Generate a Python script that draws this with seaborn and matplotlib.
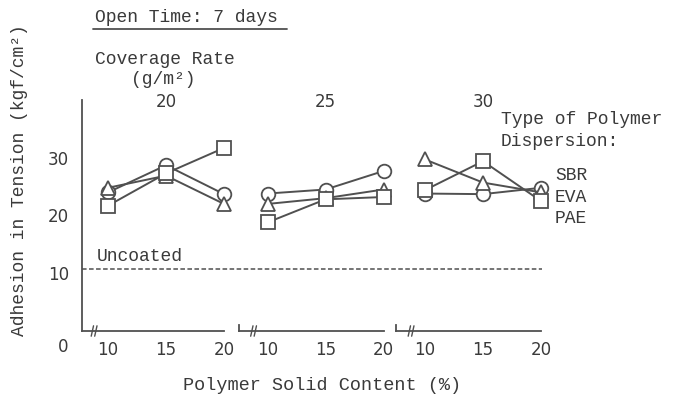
import numpy as np
import pandas as pd
import seaborn as sns
import matplotlib.pyplot as plt
from matplotlib.lines import Line2D

# data
coverage = [20, 25, 30]            # g/m2, one panel each
content = [10, 15, 20]             # polymer solid content (%)
polymers = ["SBR", "EVA", "PAE"]
markers = {"SBR": "o", "EVA": "^", "PAE": "s"}

sbr = [[24.0, 28.7, 23.7], [23.8, 24.5, 27.7], [23.8, 23.7, 24.8]]
eva = [[24.8, 26.9, 22.0], [22.0, 23.0, 24.5], [29.7, 25.7, 24.0]]
pae = [[21.7, 27.3, 31.7], [18.8, 22.8, 23.2], [24.4, 29.4, 22.5]]
uncoated = 10.75

yticks = [10, 20, 30]

rows = []
for name, vals in zip(polymers, [sbr, eva, pae]):
    for g, cov in enumerate(coverage):
        for x, v in zip(content, vals[g]):
            rows.append({"coverage": cov, "content": x, "polymer": name, "adhesion": v})
df = pd.DataFrame(rows)

sns.set_style("white")
plt.rcParams["font.family"] = ["Liberation Mono", "DejaVu Sans Mono"]

INK = "#3a3a3a"
LINE = "#505050"
MONO = 13
NUM = 12

W, H = 673, 397
fig = plt.figure(figsize=(W / 100, H / 100), dpi=100)


def fx(px):
    return px / W


def fy(py):
    return 1 - py / H


# panel geometry in pixels (left edge) and x limits, 11.6 px per unit
PXU = 11.6
panel_left = [81.7, 238.5, 396]
xlims = [(7.73, 20), (7.5, 20), (7.5, 20)]
top, bottom = 100, 331

axes = []
for i, (l, cov) in enumerate(zip(panel_left, coverage)):
    w = (xlims[i][1] - xlims[i][0]) * PXU
    ax = fig.add_axes([fx(l), fy(bottom), fx(w), (bottom - top) / H])
    sub = df[df["coverage"] == cov]
    sns.lineplot(data=sub, x="content", y="adhesion", hue="polymer", style="polymer",
                 markers=markers, dashes=False, palette=[LINE] * 3,
                 markersize=9.8, markerfacecolor="white", markeredgecolor=LINE,
                 markeredgewidth=1.3, linewidth=1.4, legend=False, ax=ax,
                 clip_on=False, sort=True)
    ax.set_xlim(*xlims[i])
    ax.set_ylim(0, 40)
    ax.set_xticks(content)
    ax.set_xticklabels([str(c) for c in content])
    ax.set_xlabel("")
    ax.set_ylabel("")
    ax.patch.set_alpha(0)
    for s in ["top", "right"]:
        ax.spines[s].set_visible(False)
    ax.spines["bottom"].set_color(LINE)
    ax.spines["left"].set_color(LINE)
    ax.spines["bottom"].set_linewidth(1.3)
    ax.spines["left"].set_linewidth(1.3)
    ax.tick_params(axis="x", direction="in", length=5, width=1.1, color=LINE,
                   labelsize=NUM, labelcolor=INK, pad=7)
    for lab in ax.get_xticklabels():
        lab.set_family("DejaVu Sans")
    if i == 0:
        ax.set_yticks(yticks)
        ax.set_yticklabels([str(t) for t in yticks])
        ax.tick_params(axis="y", direction="in", length=5, width=1.1, color=LINE,
                       labelsize=NUM, labelcolor=INK, pad=9)
        for lab in ax.get_yticklabels():
            lab.set_family("DejaVu Sans")
    else:
        ax.set_yticks([])
        ax.spines["left"].set_bounds(0, 1.1)
    # axis break marks
    for xb in (8.65, 8.95):
        ax.plot([xb - 0.1, xb + 0.1], [-0.9, 0.9], color=LINE, lw=1.0,
                clip_on=False)
    # coverage rate header, centred over the middle column
    ax.text(15, 39.6, str(cov), ha="center", va="center", fontsize=NUM,
            color=INK, family="DejaVu Sans")
    axes.append(ax)

# overlay for the uncoated reference line
ov = fig.add_axes([fx(81.7), fy(bottom), fx(541.7 - 81.7), (bottom - top) / H])
ov.set_xlim(0, 1)
ov.set_ylim(0, 40)
ov.axis("off")
ov.axhline(uncoated, color=LINE, lw=1.1, ls=(0, (3, 1.6)))
ov.text(0.033, uncoated + 0.6, "Uncoated", fontsize=MONO, color=INK,
        ha="left", va="bottom")

# titles and labels
fig.text(fx(95), fy(17), "Open Time: 7 days", fontsize=MONO, color=INK,
         ha="left", va="center")
fig.add_artist(Line2D([fx(93), fx(287)], [fy(29), fy(29)], color=LINE, lw=1.3))
fig.text(fx(95), fy(60), "Coverage Rate", fontsize=MONO, color=INK,
         ha="left", va="center")
fig.text(fx(163), fy(80), "(g/m²)", fontsize=MONO, color=INK,
         ha="center", va="center")
fig.text(fx(501), fy(120), "Type of Polymer", fontsize=MONO, color=INK,
         ha="left", va="center")
fig.text(fx(501), fy(142), "Dispersion:", fontsize=MONO, color=INK,
         ha="left", va="center")
for k, name in enumerate(polymers):
    fig.text(fx(555), fy(175 + 22 * k), name, fontsize=MONO, color=INK,
             ha="left", va="center")
fig.text(fx(20), fy(180), "Adhesion in Tension (kgf/cm²)", fontsize=MONO,
         color=INK, rotation=90, ha="center", va="center")
fig.text(fx(322), fy(385), "Polymer Solid Content (%)", fontsize=13.3,
         color=INK, ha="center", va="center")
fig.text(fx(63), fy(347), "0", fontsize=NUM, color=INK, ha="center",
         va="center", family="DejaVu Sans")

fig.savefig("out.png", dpi=100)
